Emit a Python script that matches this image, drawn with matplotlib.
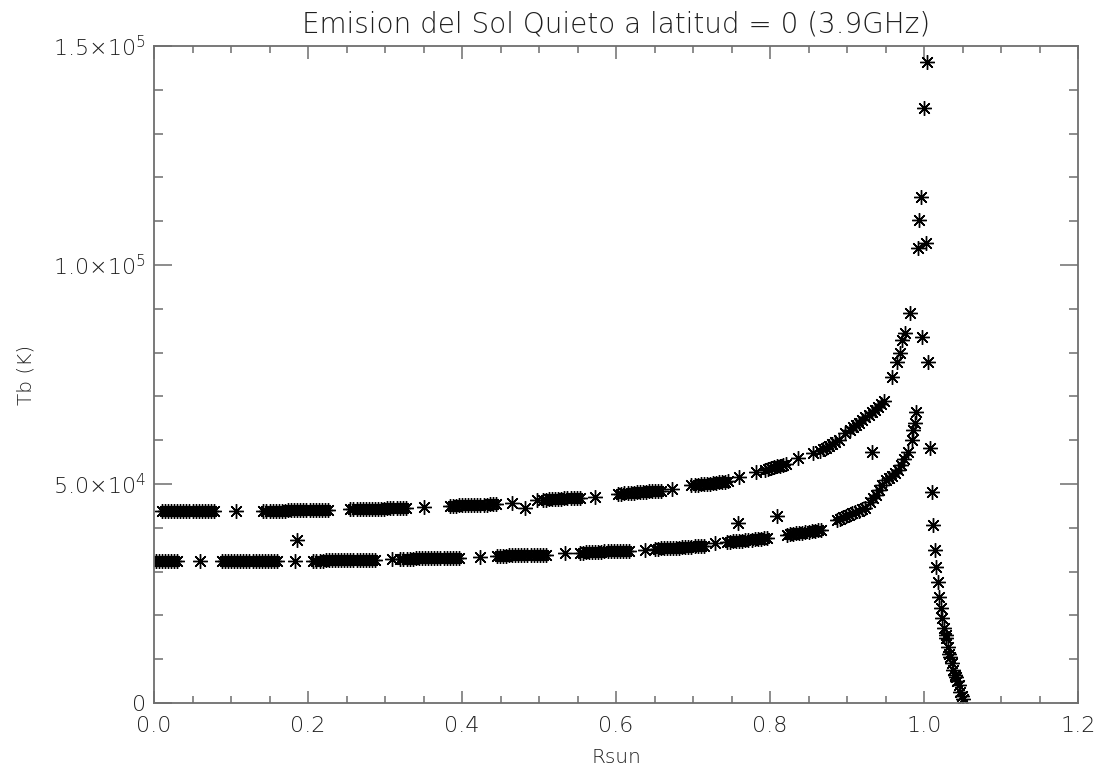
import matplotlib
matplotlib.use("Agg")
import matplotlib.pyplot as plt
from matplotlib.ticker import FixedLocator, MultipleLocator

plt.rcParams['font.family'] = ['DejaVu Sans']
plt.rcParams['font.weight'] = 200
plt.rcParams['axes.labelweight'] = 200
plt.rcParams['mathtext.default'] = 'regular'

# Upper curve: radius (Rsun) and brightness temperature (thousands of K)
upper_r = [
    0.010, 0.014, 0.018, 0.022, 0.026, 0.030, 0.034, 0.038, 0.042, 0.046,
    0.050, 0.054, 0.058, 0.062, 0.066, 0.070, 0.074, 0.078,
    0.106,
    0.142, 0.146, 0.150, 0.154, 0.158, 0.162, 0.166, 0.170, 0.174, 0.178,
    0.182, 0.186, 0.190, 0.194, 0.198, 0.202, 0.206, 0.210, 0.214, 0.218,
    0.222, 0.226,
    0.255, 0.259, 0.263, 0.267, 0.271, 0.275, 0.279, 0.283, 0.287, 0.291,
    0.295, 0.299, 0.303, 0.307, 0.311, 0.315, 0.319, 0.323, 0.327,
    0.350,
    0.384, 0.388, 0.392, 0.396, 0.400, 0.404, 0.408, 0.412, 0.416, 0.420,
    0.424, 0.428, 0.432, 0.436, 0.440, 0.444,
    0.465, 0.482, 0.497,
    0.505, 0.509, 0.513, 0.517, 0.521, 0.525, 0.529, 0.533, 0.537, 0.541,
    0.545, 0.549, 0.553,
    0.573,
    0.603, 0.607, 0.611, 0.615, 0.619, 0.623, 0.627, 0.631, 0.635, 0.639,
    0.643, 0.647, 0.651, 0.655, 0.659,
    0.673,
    0.698, 0.702, 0.706, 0.710, 0.714, 0.718, 0.722, 0.726, 0.730, 0.734,
    0.738, 0.742, 0.746,
    0.760, 0.782,
    0.793, 0.797, 0.801, 0.805, 0.809, 0.813, 0.817, 0.821,
    0.836, 0.856,
    0.865, 0.869, 0.873, 0.877, 0.881, 0.885, 0.889,
    0.898,
    0.904, 0.908, 0.912, 0.916, 0.920, 0.924, 0.928, 0.932, 0.936, 0.940,
    0.944, 0.948,
    0.932,
    0.958, 0.965, 0.969, 0.972, 0.975, 0.982, 0.992, 0.994, 0.996, 1.000,
    1.004, 1.003, 0.997, 1.005,
]
upper_tb_k = [
    43.8, 43.8, 43.8, 43.8, 43.8, 43.8, 43.8, 43.8, 43.8, 43.8,
    43.8, 43.8, 43.8, 43.8, 43.8, 43.8, 43.8, 43.8,
    43.8,
    43.9, 43.9, 43.9, 43.9, 43.9, 43.9, 43.9, 43.9, 44.0, 44.0,
    44.0, 44.0, 44.0, 44.0, 44.0, 44.0, 44.0, 44.1, 44.1, 44.1,
    44.1, 44.1,
    44.3, 44.3, 44.3, 44.3, 44.3, 44.3, 44.4, 44.4, 44.4, 44.4,
    44.4, 44.4, 44.5, 44.5, 44.5, 44.5, 44.5, 44.5, 44.5,
    44.7,
    45.0, 45.0, 45.0, 45.1, 45.1, 45.1, 45.1, 45.2, 45.2, 45.2,
    45.3, 45.3, 45.3, 45.4, 45.4, 45.4,
    45.7, 44.6, 46.3,
    46.4, 46.4, 46.5, 46.5, 46.5, 46.6, 46.6, 46.7, 46.7, 46.8,
    46.8, 46.9, 46.9,
    47.1,
    47.8, 47.8, 47.9, 47.9, 48.0, 48.0, 48.1, 48.1, 48.2, 48.2,
    48.3, 48.3, 48.4, 48.4, 48.5,
    48.8,
    49.7, 49.8, 49.8, 49.9, 50.0, 50.0, 50.1, 50.2, 50.3, 50.4,
    50.4, 50.5, 50.6,
    51.6, 52.7,
    53.3, 53.5, 53.6, 53.8, 54.0, 54.2, 54.3, 54.5,
    55.9, 57.1,
    57.5, 57.9, 58.3, 58.7, 59.1, 59.6, 60.0,
    61.6,
    62.4, 62.9, 63.4, 64.0, 64.6, 65.2, 65.8, 66.4, 67.0, 67.6,
    68.2, 68.9,
    57.3,
    74.4, 77.9, 79.9, 82.9, 84.5, 89.0, 103.9, 110.3, 115.5, 135.8,
    146.3, 105.0, 83.6, 77.9,
]

# Lower curve: radius (Rsun) and brightness temperature (thousands of K)
lower_r = [
    0.002, 0.006, 0.010, 0.014, 0.018, 0.022, 0.026, 0.030,
    0.060,
    0.088, 0.092, 0.096, 0.100, 0.104, 0.108, 0.112, 0.116, 0.120, 0.124,
    0.128, 0.132, 0.136, 0.140, 0.144, 0.148, 0.152, 0.156, 0.160,
    0.183, 0.186,
    0.207, 0.211, 0.215, 0.219, 0.223, 0.227, 0.231, 0.235, 0.239, 0.243,
    0.247, 0.251, 0.255, 0.259, 0.263, 0.267, 0.271, 0.275, 0.279, 0.283,
    0.287,
    0.309,
    0.320, 0.324, 0.328, 0.332, 0.336, 0.340, 0.344, 0.348, 0.352, 0.356,
    0.360, 0.364, 0.368, 0.372, 0.376, 0.380, 0.384, 0.388, 0.392, 0.396,
    0.423,
    0.445, 0.449, 0.453, 0.457, 0.461, 0.465, 0.469, 0.473, 0.477, 0.481,
    0.485, 0.489, 0.493, 0.497, 0.501, 0.505, 0.509,
    0.534,
    0.553, 0.557, 0.561, 0.565, 0.569, 0.573, 0.577, 0.581, 0.585, 0.589,
    0.593, 0.597, 0.601, 0.605, 0.609, 0.613, 0.617,
    0.638,
    0.650, 0.654, 0.658, 0.662, 0.666, 0.670, 0.674, 0.678, 0.682, 0.686,
    0.690, 0.694, 0.698, 0.702, 0.706, 0.710, 0.714,
    0.729, 0.758,
    0.744, 0.748, 0.752, 0.756, 0.760, 0.764, 0.768, 0.772, 0.776, 0.780,
    0.784, 0.788, 0.792, 0.796,
    0.809,
    0.822, 0.826, 0.830, 0.834, 0.838, 0.842, 0.846, 0.850, 0.854, 0.858,
    0.862, 0.866,
    0.887, 0.891, 0.895, 0.899, 0.903, 0.907, 0.911, 0.915, 0.919, 0.923,
    0.930, 0.934, 0.938, 0.942, 0.946, 0.950, 0.954, 0.958, 0.962, 0.966,
    0.970, 0.974, 0.979, 0.984, 0.986, 0.988, 0.990,
    1.008, 1.010, 1.012, 1.014, 1.016, 1.018, 1.020, 1.022, 1.024, 1.026,
    1.028, 1.029, 1.031, 1.033, 1.034, 1.036, 1.038, 1.040, 1.041, 1.043,
    1.045, 1.047, 1.049, 1.050,
]
lower_tb_k = [
    32.4, 32.4, 32.4, 32.4, 32.4, 32.4, 32.4, 32.4,
    32.4,
    32.4, 32.4, 32.4, 32.4, 32.4, 32.4, 32.4, 32.4, 32.4, 32.4,
    32.4, 32.5, 32.5, 32.5, 32.5, 32.5, 32.5, 32.5, 32.5,
    32.5, 37.2,
    32.5, 32.5, 32.5, 32.5, 32.6, 32.6, 32.6, 32.6, 32.6, 32.6,
    32.6, 32.6, 32.6, 32.6, 32.6, 32.7, 32.7, 32.7, 32.7, 32.7,
    32.7,
    32.8,
    32.9, 32.9, 32.9, 32.9, 32.9, 33.0, 33.0, 33.0, 33.0, 33.0,
    33.0, 33.0, 33.0, 33.1, 33.1, 33.1, 33.1, 33.1, 33.1, 33.1,
    33.3,
    33.6, 33.6, 33.6, 33.6, 33.7, 33.7, 33.7, 33.7, 33.8, 33.8,
    33.8, 33.8, 33.8, 33.9, 33.9, 33.9, 33.9,
    34.2,
    34.3, 34.3, 34.4, 34.4, 34.4, 34.5, 34.5, 34.5, 34.6, 34.6,
    34.6, 34.6, 34.7, 34.7, 34.7, 34.8, 34.8,
    35.0,
    35.2, 35.2, 35.3, 35.3, 35.4, 35.4, 35.5, 35.5, 35.5, 35.6,
    35.6, 35.7, 35.7, 35.8, 35.8, 35.9, 35.9,
    36.5, 41.1,
    36.8, 36.8, 36.9, 37.0, 37.0, 37.1, 37.2, 37.2, 37.3, 37.4,
    37.4, 37.5, 37.6, 37.6,
    42.7,
    38.4, 38.5, 38.6, 38.7, 38.8, 38.9, 39.0, 39.1, 39.2, 39.3,
    39.5, 39.6,
    41.8, 42.1, 42.4, 42.7, 43.0, 43.3, 43.6, 43.9, 44.2, 44.5,
    46.0, 46.8, 47.6, 48.6, 49.8, 50.8, 51.4, 51.8, 52.4, 53.2,
    54.4, 55.6, 57.3, 60.0, 62.3, 63.9, 66.4,
    58.2, 48.2, 40.6, 34.9, 31.1, 27.6, 24.2, 21.7, 19.4, 17.1,
    15.5, 14.8, 12.8, 11.3, 10.5, 9.1, 7.5, 6.5, 5.9, 5.0,
    4.0, 2.5, 1.5, 0.8,
]

x_ticks = [0.0, 0.2, 0.4, 0.6, 0.8, 1.0, 1.2]
x_tick_labels = ['0.0', '0.2', '0.4', '0.6', '0.8', '1.0', '1.2']
y_ticks = [0, 50000, 100000, 150000]
y_tick_labels = ['0', r'5.0$\times$10$^{4}$', r'1.0$\times$10$^{5}$',
                 r'1.5$\times$10$^{5}$']

text_color = '#1e1e1e'
axis_color = '#6e6e6e'

fig = plt.figure(figsize=(11.04, 7.71), dpi=100)
ax = fig.add_axes([154 / 1104, 1 - 703 / 771, (1078 - 154) / 1104, (703 - 46) / 771])

star = (8, 2, 0)
ax.plot(upper_r, [v * 1000 for v in upper_tb_k], linestyle='none', marker=star,
        markersize=10.5, markeredgewidth=1.0, color='black')
ax.plot(lower_r, [v * 1000 for v in lower_tb_k], linestyle='none', marker=star,
        markersize=10.5, markeredgewidth=1.0, color='black')

ax.set_xlim(0.0, 1.2)
ax.set_ylim(0, 150000)

ax.xaxis.set_major_locator(FixedLocator(x_ticks))
ax.set_xticklabels(x_tick_labels)
ax.xaxis.set_minor_locator(MultipleLocator(0.05))
ax.yaxis.set_major_locator(FixedLocator(y_ticks))
ax.set_yticklabels(y_tick_labels)
ax.yaxis.set_minor_locator(MultipleLocator(10000))

for s in ax.spines.values():
    s.set_color(axis_color)
    s.set_linewidth(1.3)

ax.tick_params(which='both', direction='in', top=True, right=True,
               color=axis_color, width=1.1, labelcolor=text_color,
               labelsize=16)
ax.tick_params(axis='x', which='major', length=9, pad=9)
ax.tick_params(axis='x', which='minor', length=4.7)
ax.tick_params(axis='y', which='major', length=13, pad=6)
ax.tick_params(axis='y', which='minor', length=6.5)

fig.text(616 / 1104, 1 - 25 / 771, 'Emision del Sol Quieto a latitud = 0 (3.9GHz)',
         fontsize=20, fontweight=200, color=text_color, ha='center', va='center')
ax.set_xlabel('Rsun', fontsize=14.5, fontweight=200, color=text_color)
ax.set_ylabel('Tb (K)', fontsize=14.5, fontweight=200, color=text_color)
ax.xaxis.set_label_coords(0.5, -0.0837)
ax.yaxis.set_label_coords(-0.1385, 0.5)
ax.xaxis.label.set_va('center')
ax.yaxis.label.set_va('center')

fig.savefig('out.png', dpi=100)
